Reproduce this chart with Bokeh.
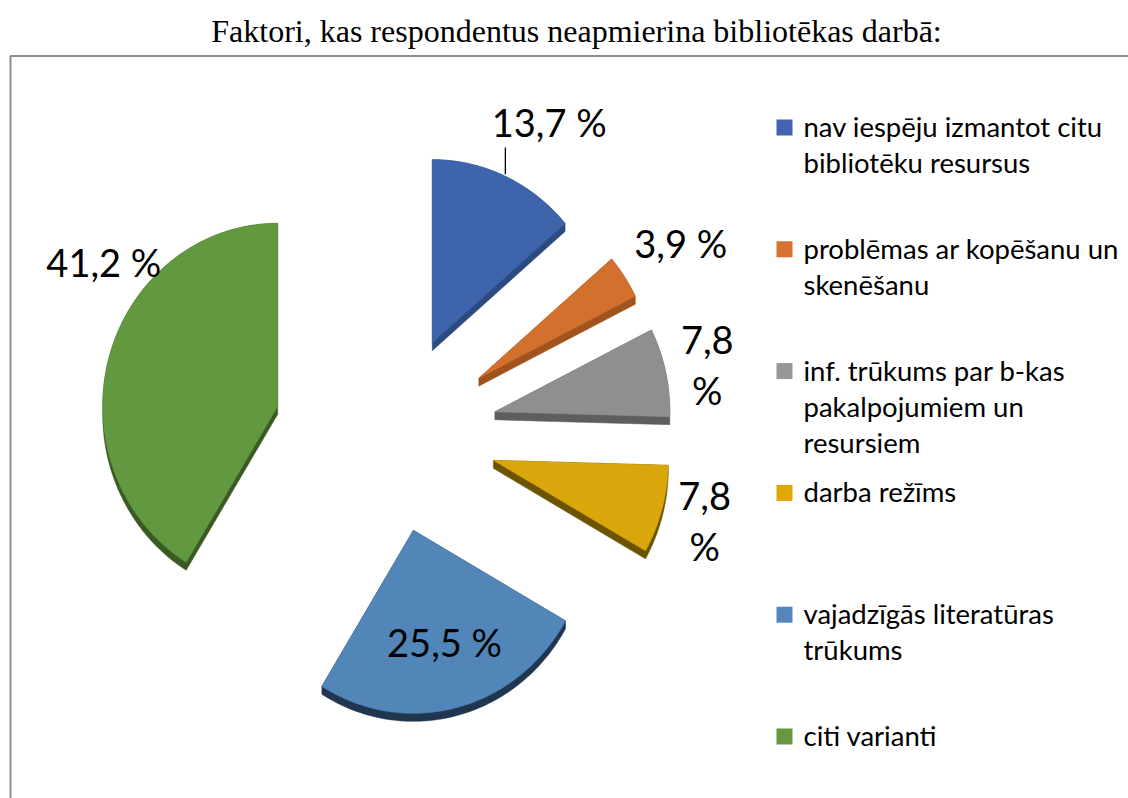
import numpy as np
from bokeh.plotting import figure
from bokeh.models import Range1d
from bokeh.core.properties import value
from bokeh.embed import file_html
from bokeh.resources import INLINE

# ---------------- data ----------------
title_text = "Faktori, kas respondentus neapmierina bibliotēkas darbā:"
categories = [
    "nav iespēju izmantot citu bibliotēku resursus",
    "problēmas ar kopēšanu un skenēšanu",
    "inf. trūkums par b-kas pakalpojumiem un resursiem",
    "darba režīms",
    "vajadzīgās literatūras trūkums",
    "citi varianti",
]
legend_lines = [
    ["nav iespēju izmantot citu", "bibliotēku resursus"],
    ["problēmas ar kopēšanu un", "skenēšanu"],
    ["inf. trūkums par b-kas", "pakalpojumiem un", "resursiem"],
    ["darba režīms"],
    ["vajadzīgās literatūras", "trūkums"],
    ["citi varianti"],
]
values = [13.7, 3.9, 7.8, 7.8, 25.5, 41.2]

# ---------------- styles / layout ----------------
top_colors = ["#3E64AB", "#D2702E", "#8F8F8F", "#D9A70B", "#5286B8", "#629840"]
side_colors = ["#2C4A80", "#A0531D", "#5E5E5E", "#6B5300", "#1F3550", "#3A5A24"]
legend_colors = ["#4064AD", "#D6712F", "#979797", "#E0A800", "#5286BC", "#64993F"]
label_wrap = [False, False, True, True, False, False]
label_r = [1.366, 1.362, 1.237, 1.256, 0.653, 1.257]
label_da = [4.6, 1.5, 1.4, 0.4, -1.4, 22.0]
leader = [True, False, False, False, False, False]
LABEL_DY = -3.0            # fine vertical tweak of the data labels

CX, CY = 385.0, 433.0      # pie centre (page px)
RX, RY = 175.0, 183.0      # radii
EX, EY = 112.0, 100.0      # explosion offset
DEPTH = 8.0                # 3D thickness

W, H = 1128, 798
p = figure(width=W, height=H, x_range=Range1d(0, W), y_range=Range1d(H, 0),
           output_backend="svg", toolbar_location=None, x_axis_type=None, y_axis_type=None,
           min_border=0, outline_line_color=None)
p.xgrid.visible = False
p.ygrid.visible = False
p.background_fill_color = "white"

# chart-area border
p.quad(left=[10], right=[1400], top=[55.5], bottom=[1100], fill_color=None,
       line_color="#8C8C8C", line_width=2)

# title
p.text(x=[576], y=[30], text=[title_text], text_font=value("Liberation Serif"),
       text_font_size="32px", text_align="center", text_baseline="middle", text_color="black")


def hull(pts):
    pts = sorted(set(pts))
    def cross(o, a, b):
        return (a[0]-o[0])*(b[1]-o[1]) - (a[1]-o[1])*(b[0]-o[0])
    lower, upper = [], []
    for q in pts:
        while len(lower) >= 2 and cross(lower[-2], lower[-1], q) <= 0:
            lower.pop()
        lower.append(q)
    for q in reversed(pts):
        while len(upper) >= 2 and cross(upper[-2], upper[-1], q) <= 0:
            upper.pop()
        upper.append(q)
    return lower[:-1] + upper[:-1]


total = sum(values)
starts, ends = [], []
acc = 0.0
for v in values:
    starts.append(acc / total * 360.0)
    acc += v
    ends.append(acc / total * 360.0)

faces, sides, apexes, mids = [], [], [], []
for s, e in zip(starts, ends):
    m = np.radians((s + e) / 2)
    ax = CX + EX * np.sin(m)
    ay = CY - EY * np.cos(m)
    th = np.radians(np.linspace(s, e, 80))
    xs = [ax] + list(ax + RX * np.sin(th))
    ys = [ay] + list(ay - RY * np.cos(th))
    faces.append((xs, ys))
    pts = [(round(x, 3), round(y, 3)) for x, y in zip(xs, ys)]
    pts += [(x, round(y + DEPTH, 3)) for x, y in pts]
    h = hull(pts)
    sides.append(([q[0] for q in h], [q[1] for q in h]))
    apexes.append((ax, ay))
    mids.append((s + e) / 2)

p.patches(xs=[s[0] for s in sides], ys=[s[1] for s in sides], fill_color=side_colors,
          line_color=side_colors, line_width=0.5)
p.patches(xs=[f[0] for f in faces], ys=[f[1] for f in faces], fill_color=top_colors,
          line_color=top_colors, line_width=0.5)

# data labels
lx, ly, lt = [], [], []
for i, v in enumerate(values):
    ax, ay = apexes[i]
    a = np.radians(mids[i] + label_da[i])
    x = ax + RX * label_r[i] * np.sin(a)
    y = ay - RY * label_r[i] * np.cos(a) + LABEL_DY
    num = f"{v:.1f}".replace(".", ",")
    if label_wrap[i]:
        lx += [x, x]; ly += [y - 25, y + 25]; lt += [num, "%"]
    else:
        lx.append(x); ly.append(y); lt.append(num + " %")
    if leader[i]:
        m = np.radians(mids[i])
        x0 = ax + RX * 1.0 * np.sin(m)
        y0 = ay - RY * 1.0 * np.cos(m)
        p.segment(x0=[x0], y0=[y0 - 2], x1=[x0], y1=[y + 26], line_color="black", line_width=1.3)

p.text(x=lx, y=ly, text=lt, text_font=value("Lato"), text_font_size="38px",
       text_align="center", text_baseline="middle", text_color="black")

# legend
LEG_X, LEG_TOP, LEG_STEP, LINE_STEP = 784, 126, 121.8, 36
sq_x, sq_y = [], []
tx, ty, tt = [], [], []
for i, lines in enumerate(legend_lines):
    yc = LEG_TOP + i * LEG_STEP
    sq_x.append(LEG_X); sq_y.append(yc + 1)
    for j, line in enumerate(lines):
        tx.append(LEG_X + 19); ty.append(yc + j * LINE_STEP); tt.append(line)
p.scatter(x=sq_x, y=sq_y, marker="square", size=16, fill_color=legend_colors, line_color=None)
p.text(x=tx, y=ty, text=tt, text_font=value("Lato"), text_font_size="27.5px",
       text_align="left", text_baseline="middle", text_color="black")

open("out.html", "w").write(file_html(p, INLINE))
